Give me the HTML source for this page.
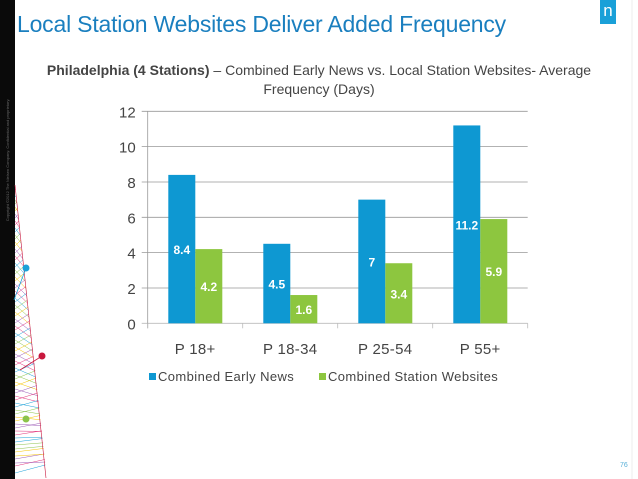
<!DOCTYPE html>
<html><head><meta charset="utf-8"><style>
html,body{margin:0;padding:0;background:#fff;width:638px;height:479px;overflow:hidden;}
#wrap{position:relative;width:638px;height:479px;overflow:hidden;background:#fff;font-family:"Liberation Sans",sans-serif;}
.t{position:absolute;white-space:nowrap;}
svg{display:block;}
</style></head><body>
<div id="wrap">
<svg id="deco" width="638" height="479" style="position:absolute;left:0;top:0">
<defs><clipPath id="wedge"><polygon points="15,185 15,479 47,479"/></clipPath></defs>
<rect x="0" y="0" width="15" height="479" fill="#0a0a0a"/>
<line x1="632" y1="0" x2="632" y2="479" stroke="#eee"/>
<text x="9" y="160" transform="rotate(-90 9 160)" font-size="4" fill="#666" font-family="Liberation Sans" text-anchor="middle">Copyright ©2012 The Nielsen Company. Confidential and proprietary.</text>
<g id="mesh" clip-path="url(#wedge)"></g>
<g id="mesh2"></g>
<line x1="14" y1="300" x2="26" y2="268" stroke="#1aa0d8" stroke-width="0.8"/>
<circle cx="26" cy="268" r="3.5" fill="#1aa0d8"/>
<line x1="20" y1="370" x2="42" y2="356" stroke="#c8173d" stroke-width="0.8"/>
<circle cx="42" cy="356" r="3.5" fill="#c8173d"/>
<circle cx="26" cy="419" r="3.5" fill="#8bc34a"/>
</svg>
<div class="t" style="left:17px;top:11px;font-size:23px;color:#1a7fbf;letter-spacing:-0.2px">Local Station Websites Deliver Added Frequency</div>
<div style="position:absolute;left:600px;top:0;width:16px;height:24px;background:#1aa0d8;color:#fff;font-size:17px;text-align:center;line-height:22px">n</div>
<div class="t" style="left:20px;width:598px;top:61px;text-align:center;font-size:14px;color:#444;line-height:19px;white-space:normal">
<b>Philadelphia (4 Stations)</b> – Combined Early News vs. Local Station Websites- Average<br>Frequency (Days)</div>
<svg id="chart" width="638" height="479" style="position:absolute;left:0;top:0"></svg>
<div class="t" style="left:620px;top:462px;font-size:7px;line-height:8px;color:#5ab0d8">76</div>
</div>
<script>
const categories=["P 18+","P 18-34","P 25-54","P 55+"];
const earlyNews=[8.4,4.5,7,11.2];
const websites=[4.2,1.6,3.4,5.9];
const yTicks=[0,2,4,6,8,10,12];
const seriesNames=["Combined Early News","Combined Station Websites"];
const colors=["#0e98d2","#8dc63f"];
const NS="http://www.w3.org/2000/svg";
const svg=document.getElementById('chart');
const X0=147.7,X1=527.7,Y0=323.3,Y1=111.3,YMAX=12;
const y=v=>Y0-(v/YMAX)*(Y0-Y1);
const cw=(X1-X0)/categories.length;
const x=i=>X0+i*cw;
function mk(tag,attrs,txt){const e=document.createElementNS(NS,tag);for(const k in attrs)e.setAttribute(k,attrs[k]);if(txt!==undefined)e.textContent=txt;svg.appendChild(e);return e;}
yTicks.forEach(t=>{
  const g=mk('line',{x1:X0-6,x2:X1,y1:y(t),y2:y(t),stroke:t===0?'#bbb':'#999','stroke-width':0.8});
  
  
  const l=mk('text',{x:X0-12,y:y(t)+6,'text-anchor':'end','font-size':15,fill:'#444','font-family':'Liberation Sans'},t);
  
  
});
mk('line',{x1:X0,x2:X0,y1:Y1,y2:Y0+5,stroke:'#999','stroke-width':0.8});
for(let i=0;i<=categories.length;i++){mk('line',{x1:x(i),x2:x(i),y1:Y0,y2:Y0+5,stroke:'#bbb','stroke-width':0.8});}
const bw=27,off=20.6;
categories.forEach((c,i)=>{
  [earlyNews,websites].forEach((s,j)=>{
    const bx=x(i)+off+j*bw;
    const r=mk('rect',{x:bx,y:y(s[i]),width:bw,height:Y0-y(s[i]),fill:colors[j]});
    
    
    const t=mk('text',{x:bx+bw/2,y:y(s[i]/2)+5,'text-anchor':'middle','font-size':12,'font-weight':'bold',fill:'#fff','font-family':'Liberation Sans'},s[i]);
    
    
  });
  const cl=mk('text',{x:x(i)+cw/2,y:354,'text-anchor':'middle','font-size':15,fill:'#444','font-family':'Liberation Sans','letter-spacing':0.3},c);
  
  
});
const lx=[149,319];
seriesNames.forEach((n,j)=>{
  const s=mk('rect',{x:lx[j],y:373,width:7,height:7,fill:colors[j]});
  
  
  const t=mk('text',{x:lx[j]+9,y:381,'font-size':13,fill:'#444','font-family':'Liberation Sans','letter-spacing':0.4},n);
  
  
});
const mesh=document.getElementById('mesh');
const mc=["#e0317a","#1aa0d8","#8bc34a","#f5c400","#9b59b6"];
for(let k=0;k<40;k++){
  const l1=document.createElementNS(NS,'line');
  l1.setAttribute('x1',15);l1.setAttribute('y1',190+k*7);
  l1.setAttribute('x2',47);l1.setAttribute('y2',150+k*8);
  l1.setAttribute('stroke',mc[k%5]);l1.setAttribute('stroke-width',0.5);
  mesh.appendChild(l1);
  const l2=document.createElementNS(NS,'line');
  l2.setAttribute('x1',15);l2.setAttribute('y1',200+k*7);
  l2.setAttribute('x2',47);l2.setAttribute('y2',250+k*5.5);
  l2.setAttribute('stroke',mc[(k+2)%5]);l2.setAttribute('stroke-width',0.5);
  mesh.appendChild(l2);
}
const edge=document.createElementNS(NS,'line');
edge.setAttribute('x1',15);edge.setAttribute('y1',185);edge.setAttribute('x2',46);edge.setAttribute('y2',478);
edge.setAttribute('stroke','#c8173d');edge.setAttribute('stroke-width',0.6);
document.getElementById('mesh2').appendChild(edge);
</script>
</body></html>
